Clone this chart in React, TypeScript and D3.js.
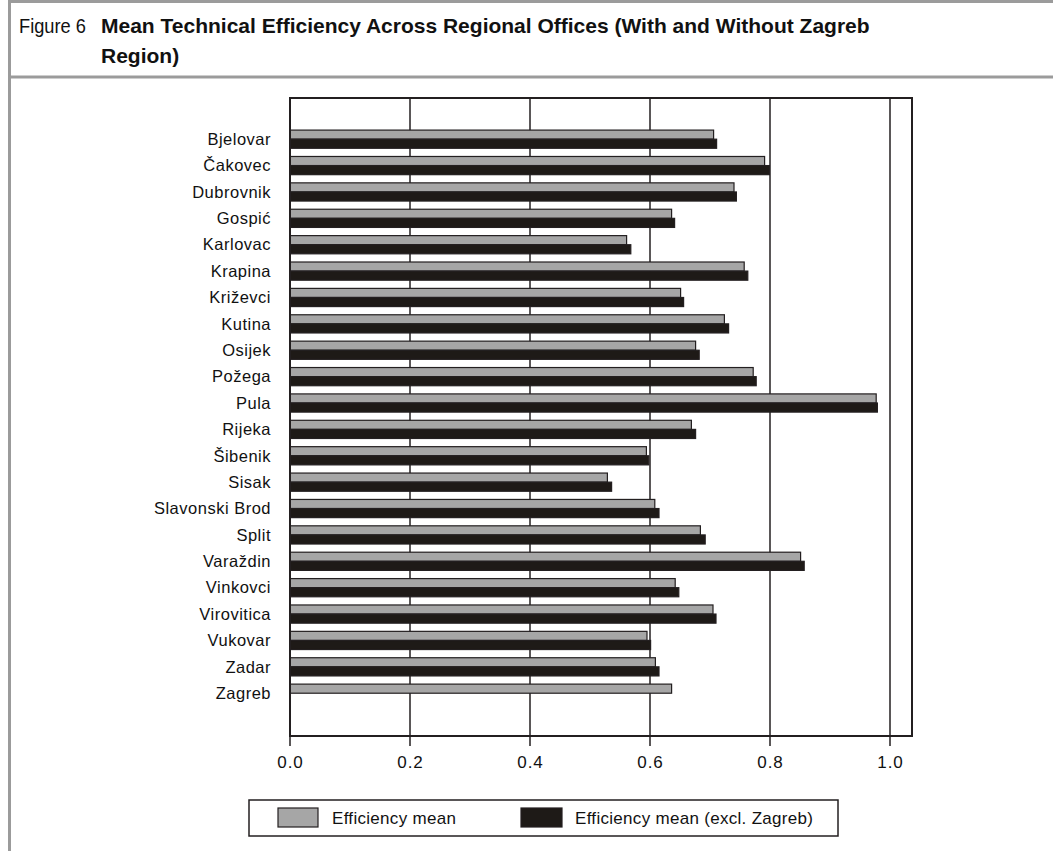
import React from "react";
import * as d3 from "d3";

const categories = [
  "Bjelovar", "Čakovec", "Dubrovnik", "Gospić", "Karlovac", "Krapina", "Križevci",
  "Kutina", "Osijek", "Požega", "Pula", "Rijeka", "Šibenik", "Sisak",
  "Slavonski Brod", "Split", "Varaždin", "Vinkovci", "Virovitica", "Vukovar",
  "Zadar", "Zagreb",
];
const efficiencyMean = [
  0.706, 0.791, 0.740, 0.636, 0.561, 0.757, 0.651, 0.724, 0.676, 0.772, 0.977,
  0.669, 0.594, 0.529, 0.608, 0.684, 0.851, 0.642, 0.705, 0.595, 0.609, 0.636,
];
const efficiencyMeanExclZagreb: (number | null)[] = [
  0.711, 0.799, 0.744, 0.641, 0.568, 0.763, 0.656, 0.731, 0.682, 0.777, 0.979,
  0.676, 0.598, 0.536, 0.615, 0.692, 0.857, 0.648, 0.710, 0.601, 0.615, null,
];
const seriesNames = ["Efficiency mean", "Efficiency mean (excl. Zagreb)"];
const xTicks = [0, 0.2, 0.4, 0.6, 0.8, 1.0];

const W = 1053;
const H = 851;
const plot = { left: 290, right: 912, top: 98, bottom: 736 };
const GRAY = "#a6a6a6";
const DARK = "#1e1a17";
const LINE = "#231f20";
const FRAME = "#9b9b9b";
const FONT = "'Liberation Sans', Arial, sans-serif";

export default function App() {
  const x = d3.scaleLinear().domain([0, 1]).range([plot.left, plot.left + 600]);
  const y0 = d3.scaleBand<string>().domain(categories).range([126, 706.4]).padding(0);
  const y1 = d3
    .scaleBand<string>()
    .domain(seriesNames)
    .range([0, y0.bandwidth()])
    .paddingInner(0)
    .paddingOuter(0.45);
  const series = [efficiencyMean, efficiencyMeanExclZagreb];
  const fills = [GRAY, DARK];

  return (
    <svg
      width={W}
      height={H}
      style={{ position: "absolute", left: 0, top: 0, background: "#fff" }}
      fontFamily={FONT}
    >
      <rect x={0} y={0} width={W} height={H} fill="#fff" />
      {/* frame */}
      <rect x={8} y={0} width={W - 8} height={3} fill={FRAME} />
      <rect x={8} y={0} width={3} height={H} fill={FRAME} />
      <rect x={8} y={75.5} width={W - 8} height={3} fill={FRAME} />

      {/* title */}
      <text x={19} y={33} fontSize={21} fill="#111" textLength={67} lengthAdjust="spacingAndGlyphs">
        Figure 6
      </text>
      <text x={101} y={33} fontSize={21} fontWeight="bold" fill="#111">
        Mean Technical Efficiency Across Regional Offices (With and Without Zagreb
      </text>
      <text x={101} y={63} fontSize={21} fontWeight="bold" fill="#111">
        Region)
      </text>

      {/* gridlines */}
      {xTicks.slice(1).map((t) => (
        <line key={"g" + t} x1={x(t)} x2={x(t)} y1={plot.top} y2={plot.bottom} stroke={LINE} strokeWidth={1.5} />
      ))}

      {/* bars */}
      {categories.map((c, i) => (
        <g key={c} transform={`translate(0,${y0(c)})`}>
          {series.map((s, k) => {
            const v = s[i];
            if (v == null) return null;
            return (
              <rect
                key={k}
                x={x(0)}
                y={y1(seriesNames[k])}
                width={x(v) - x(0)}
                height={y1.bandwidth()}
                fill={fills[k]}
                stroke={LINE}
                strokeWidth={1.2}
              />
            );
          })}
        </g>
      ))}

      {/* plot frame */}
      <rect
        x={plot.left}
        y={plot.top}
        width={plot.right - plot.left}
        height={plot.bottom - plot.top}
        fill="none"
        stroke={LINE}
        strokeWidth={2}
      />

      {/* category labels */}
      {categories.map((c) => (
        <text
          key={"l" + c}
          x={271}
          y={(y0(c) as number) + y0.bandwidth() / 2}
          dy="0.35em"
          textAnchor="end"
          fontSize={16.5}
          letterSpacing={0.5}
          fill="#111"
        >
          {c}
        </text>
      ))}

      {/* x ticks */}
      {xTicks.map((t) => (
        <g key={"t" + t}>
          <line x1={x(t)} x2={x(t)} y1={plot.bottom} y2={plot.bottom + 10} stroke={LINE} strokeWidth={1.5} />
          <text x={x(t) + 0.5} y={plot.bottom + 32} textAnchor="middle" fontSize={17} letterSpacing={1} fill="#111">
            {d3.format(".1f")(t)}
          </text>
        </g>
      ))}

      {/* legend */}
      <rect x={249} y={800} width={589} height={36} fill="#fff" stroke={LINE} strokeWidth={1.5} />
      <rect x={278} y={808} width={40} height={19} fill={GRAY} stroke={LINE} strokeWidth={1.2} />
      <text x={332} y={818} dy="0.35em" fontSize={17} letterSpacing={0.3} fill="#111">
        {seriesNames[0]}
      </text>
      <rect x={521} y={808} width={41} height={19} fill={DARK} stroke={LINE} strokeWidth={1.2} />
      <text x={575} y={818} dy="0.35em" fontSize={17} letterSpacing={0.3} fill="#111">
        {seriesNames[1]}
      </text>
    </svg>
  );
}
